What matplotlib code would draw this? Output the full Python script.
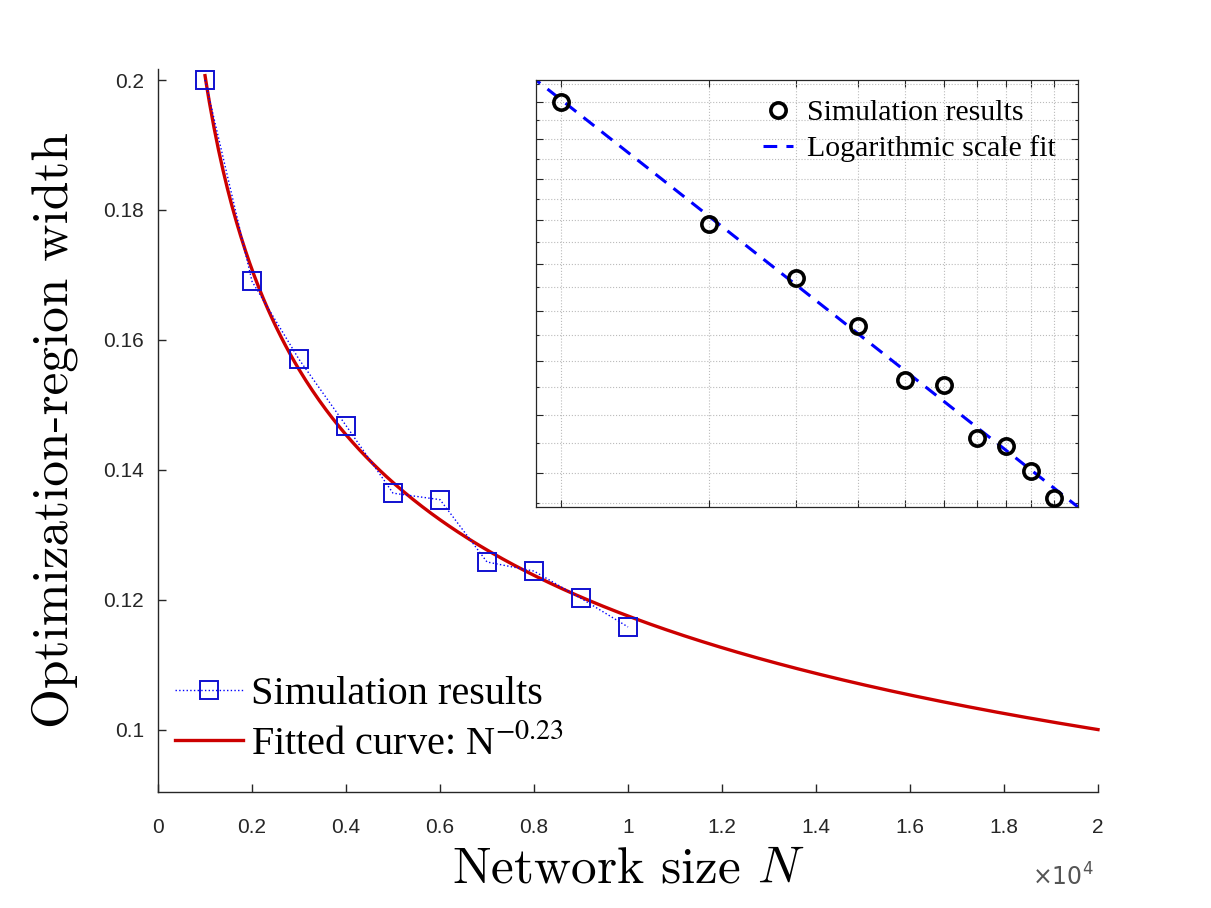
import numpy as np
import matplotlib
matplotlib.use("Agg")
import matplotlib.pyplot as plt
from matplotlib.ticker import FixedLocator, FuncFormatter, NullFormatter

# Simulation data
network_size = [1000, 2000, 3000, 4000, 5000, 6000, 7000, 8000, 9000, 10000]
region_width = [0.2, 0.169, 0.157, 0.1468, 0.1364, 0.1354, 0.1258, 0.1244, 0.1202, 0.1158]

# Fitted power law  a * N^b  (b shown as -0.23 in the legend)
fit_coef = 1.0
fit_exp = -0.2325
fit_range = [1000, 20000]

x_ticks = [0, 2000, 4000, 6000, 8000, 10000, 12000, 14000, 16000, 18000, 20000]
y_ticks = [0.1, 0.12, 0.14, 0.16, 0.18, 0.2]
inset_x_range = [890, 11200]
inset_y_major = [0.12, 0.13, 0.14, 0.15, 0.16, 0.17, 0.18, 0.19, 0.2]
inset_y_minor = [0.115, 0.125, 0.135, 0.145, 0.155, 0.165, 0.175, 0.185, 0.195, 0.205]

tick_color = "#262626"

fig = plt.figure(figsize=(12.11, 9.08), dpi=100)

# ---- main axes ----
ax = fig.add_axes([0.1305, 0.1278, 0.7762, 0.7962])

n_fit = np.linspace(fit_range[0], fit_range[1], 400)
w_fit = fit_coef * n_fit ** fit_exp

ax.plot(network_size, region_width, linestyle=":", color="#0000ff", linewidth=1.0,
        marker="s", markersize=13, markerfacecolor="none", markeredgecolor="#1010d0",
        markeredgewidth=1.4, label="Simulation results", zorder=3)
ax.plot(n_fit, w_fit, color="#cc0000", linewidth=2.4,
        label="Fitted curve: N$^{-0.23}$", zorder=2, clip_on=False)

ax.set_xlim(0, 20000)
ax.set_ylim(0.0904, 0.2017)
ax.set_xticks(x_ticks)
ax.set_yticks(y_ticks)
ax.xaxis.set_major_formatter(FuncFormatter(lambda v, p: "%g" % (v / 1e4)))
ax.yaxis.set_major_formatter(FuncFormatter(lambda v, p: "%g" % round(v, 3)))

for side in ["top", "right"]:
    ax.spines[side].set_visible(False)
for side in ["left", "bottom"]:
    ax.spines[side].set_color(tick_color)
    ax.spines[side].set_linewidth(1.0)

ax.tick_params(direction="in", length=6, width=1.0, color=tick_color,
               labelcolor=tick_color, labelsize=15)
ax.tick_params(axis="x", pad=19)
ax.tick_params(axis="y", pad=10)
for lab in ax.get_xticklabels() + ax.get_yticklabels():
    lab.set_fontfamily("Liberation Sans")

ax.text(0.995, -0.117, r"$\times 10^{4}$", transform=ax.transAxes, ha="right",
        va="center", fontsize=17, color="#555555", math_fontfamily="dejavusans")

ax.set_xlabel("Network size $N$", fontfamily="cmr10", fontsize=37,
              math_fontfamily="cm", labelpad=7)
ax.set_ylabel("Optimization-region width", fontfamily="cmr10", fontsize=37,
              labelpad=18)

leg = ax.legend(loc="lower left", bbox_to_anchor=(0.018, 0.04), frameon=False,
                prop={"family": "Liberation Serif", "size": 29},
                handlelength=1.7, handletextpad=0.2, labelspacing=0.3,
                borderpad=0, borderaxespad=0)
for t in leg.get_texts():
    t.set_math_fontfamily("stix")

# ---- inset (log-log) ----
ins = fig.add_axes([0.4426, 0.4416, 0.4476, 0.4703])
ins.set_xscale("log")
ins.set_yscale("log")

x_lo, x_hi = inset_x_range
y_hi = fit_coef * x_lo ** fit_exp
y_lo = fit_coef * x_hi ** fit_exp
# draw the fit slightly past the box so the dashes reach both corners
n_line = np.array([x_lo * 0.97, x_hi * 1.03])
w_line = fit_coef * n_line ** fit_exp

ins.plot(network_size, region_width, linestyle="none", marker="o", markersize=11,
         markerfacecolor="none", markeredgecolor="black", markeredgewidth=2.6,
         label="Simulation results", zorder=3)
ins.plot(n_line, w_line, linestyle=(0, (4.5, 3)), color="#0000ff", linewidth=2.2,
         label="Logarithmic scale fit", zorder=2)

ins.set_xlim(x_lo, x_hi)
ins.set_ylim(y_lo, y_hi)
ins.xaxis.set_major_locator(FixedLocator(network_size))
ins.xaxis.set_minor_locator(FixedLocator([]))
ins.yaxis.set_major_locator(FixedLocator(inset_y_major))
ins.yaxis.set_minor_locator(FixedLocator(inset_y_minor))
ins.xaxis.set_major_formatter(NullFormatter())
ins.xaxis.set_minor_formatter(NullFormatter())
ins.yaxis.set_major_formatter(NullFormatter())
ins.yaxis.set_minor_formatter(NullFormatter())
ins.tick_params(which="both", direction="in", top=True, right=True,
                color=tick_color, width=0.8)
ins.tick_params(which="major", length=5)
ins.tick_params(which="minor", length=2.5)
ins.grid(True, which="both", linestyle=":", color="#bbbbbb", linewidth=0.8)
for s in ins.spines.values():
    s.set_color(tick_color)
    s.set_linewidth(0.9)

ins.legend(loc="upper right", bbox_to_anchor=(0.96, 0.955), frameon=False,
           prop={"family": "Liberation Serif", "size": 21.5},
           handlelength=1.0, handletextpad=0.5, labelspacing=0.3,
           borderpad=0, borderaxespad=0)

fig.savefig("out.png", dpi=100)
